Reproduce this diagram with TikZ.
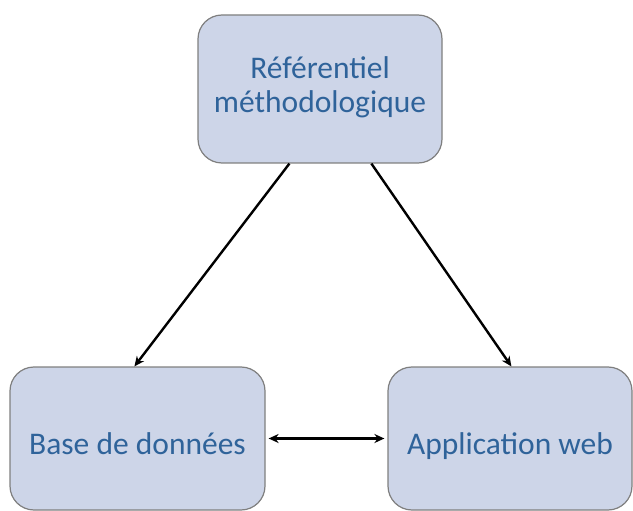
\documentclass[tikz,border=0pt]{standalone}
\usepackage{fontspec}
\setmainfont{Carlito}
\usetikzlibrary{arrows.meta}
\definecolor{boxfill}{HTML}{CDD5E8}
\definecolor{boxline}{HTML}{7F7F7F}
\definecolor{txt}{HTML}{2F639A}
\begin{document}
\begin{tikzpicture}[x=1pt,y=-1pt,
  box/.style={draw=boxline,line width=1.2pt,fill=boxfill,rounded corners=24pt,
    text=txt,font=\fontsize{31.5}{35}\selectfont,align=center,inner sep=0pt},
  conn/.style={line width=2.4pt,-{Stealth[length=10pt,width=9pt]}}]
\useasboundingbox (0,0) rectangle (633,511);
\node[box,minimum width=244pt,minimum height=148pt] (ref) at (320,89) {\raisebox{-5pt}{\begin{tabular}{@{}c@{}}Référentiel\\[-1pt]méthodologique\end{tabular}}};
\node[box,minimum width=255pt,minimum height=143pt,text height=35pt,text depth=4pt] (bdd) at (137.5,438.5) {Base de données};
\node[box,minimum width=244pt,minimum height=143pt,text height=35pt,text depth=4pt] (web) at (510,438.5) {Application web};
\draw[conn] ([xshift=92pt]ref.south west) -- ([xshift=125pt]bdd.north west);
\draw[conn] ([xshift=174pt]ref.south west) -- ([xshift=124pt]web.north west);
\draw[line width=2.4pt,{Stealth[length=10pt,width=9pt]}-{Stealth[length=10pt,width=9pt]}] ([xshift=3pt]bdd.east) -- ([xshift=-3pt]web.west);
\end{tikzpicture}
\end{document}
